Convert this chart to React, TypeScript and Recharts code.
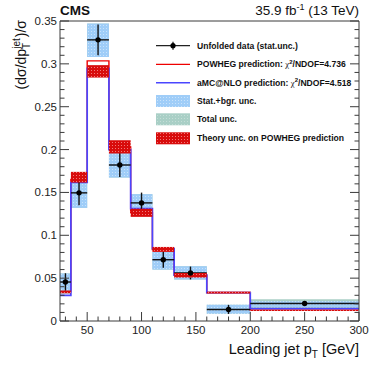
import React from 'react';
import {
  ComposedChart, XAxis, YAxis, Line, Scatter, ErrorBar, ReferenceArea,
} from 'recharts';

// ---------------- data ----------------
const binEdges = [25, 35, 50, 70, 90, 110, 130, 160, 200, 300];
const binCenters = [30, 42.5, 60, 80, 100, 120, 145, 180, 250];
const dataValues = [0.0455, 0.1495, 0.328, 0.182, 0.1378, 0.0715, 0.056, 0.0135, 0.0205];
const dataStatErr = [0.0102, 0.0146, 0.018, 0.014, 0.012, 0.0095, 0.0075, 0.0053, 0.0025];
const statBandLo = [0.032, 0.132, 0.308, 0.1675, 0.1285, 0.060, 0.0483, 0.0086, 0.0164];
const statBandHi = [0.0554, 0.162, 0.347, 0.196, 0.148, 0.0806, 0.064, 0.019, 0.023];
const totalBandLo = [0.032, 0.132, 0.308, 0.1675, 0.1285, 0.060, 0.0483, 0.0086, 0.0137];
const totalBandHi = [0.0554, 0.162, 0.347, 0.196, 0.148, 0.0806, 0.064, 0.019, 0.0253];
const powhegValues = [0.034, 0.165, 0.3035, 0.203, 0.1265, 0.0835, 0.0535, 0.0332, 0.0125];
const powhegBandLo = [0.0325, 0.1615, 0.284, 0.1955, 0.1215, 0.0806, 0.0507, 0.0322, 0.0118];
const powhegBandHi = [0.0355, 0.174, 0.2985, 0.211, 0.131, 0.0864, 0.056, 0.0342, 0.0132];
const amcValues = [0.030, 0.1616, 0.2948, 0.2, 0.131, 0.0845, 0.0535, 0.0332, 0.0145];

const xTicks = [30, 40, 50, 60, 70, 80, 90, 100, 110, 120, 130, 140, 150, 160, 170, 180, 190, 200,
  210, 220, 230, 240, 250, 260, 270, 280, 290, 300];
const xMajorLabels = [50, 100, 150, 200, 250, 300];
const yTicks = [0, 0.01, 0.02, 0.03, 0.04, 0.05, 0.06, 0.07, 0.08, 0.09, 0.1, 0.11, 0.12, 0.13,
  0.14, 0.15, 0.16, 0.17, 0.18, 0.19, 0.2, 0.21, 0.22, 0.23, 0.24, 0.25, 0.26, 0.27, 0.28, 0.29,
  0.3, 0.31, 0.32, 0.33, 0.34, 0.35];
const yMajorLabels = ['0', '0.05', '0.1', '0.15', '0.2', '0.25', '0.3', '0.35'];

const legendLabels = [
  'Unfolded data (stat.unc.)',
  'POWHEG prediction: ',
  'aMC@NLO prediction: ',
  'Stat.+bgr. unc.',
  'Total unc.',
  'Theory unc. on POWHEG prediction',
];
const chi2Values = ['4.736', '4.518'];

// ---------------- derived tables ----------------
const stepData = (vals: number[]) =>
  binEdges.map((e, i) => ({ x: e, y: vals[Math.min(i, vals.length - 1)] }));
const powhegSteps = stepData(powhegValues);
const amcSteps = stepData(amcValues);
const points = binCenters.map((c, i) => ({
  x: c,
  y: dataValues[i],
  ex: [c - binEdges[i], binEdges[i + 1] - c],
  ey: dataStatErr[i],
}));

const FONT = '"Liberation Sans", Arial, Helvetica, sans-serif';
const AXIS = '#3a3a3a';
const RED = '#ee0000';
const BLUE = '#4a46ff';

const isMajorX = (v: number) => xMajorLabels.includes(v);
const isMajorY = (v: number) => yMajorLabels.includes(String(v));

const BottomTick = (p: any) => {
  const v = p.payload.value;
  const m = isMajorX(v);
  return (
    <g>
      <line x1={p.x} x2={p.x} y1={p.y} y2={p.y - (m ? 9 : 4.5)} stroke={AXIS} strokeWidth={1} />
      {m && (
        <text x={p.x} y={p.y + 13} textAnchor="middle" fontSize={11.5} fontFamily={FONT} fill="#222">
          {v}
        </text>
      )}
    </g>
  );
};
const TopTick = (p: any) => {
  const v = p.payload.value;
  const m = isMajorX(v);
  return <line x1={p.x} x2={p.x} y1={p.y} y2={p.y + (m ? 9 : 4.5)} stroke={AXIS} strokeWidth={1} />;
};
const LeftTick = (p: any) => {
  const v = p.payload.value;
  const m = isMajorY(v);
  return (
    <g>
      <line x1={p.x} x2={p.x + (m ? 9 : 4.5)} y1={p.y} y2={p.y} stroke={AXIS} strokeWidth={1} />
      {m && (
        <text x={p.x - 3} y={p.y + 4} textAnchor="end" fontSize={11.5} fontFamily={FONT} fill="#222">
          {String(v)}
        </text>
      )}
    </g>
  );
};
const RightTick = (p: any) => {
  const v = p.payload.value;
  const m = isMajorY(v);
  return <line x1={p.x} x2={p.x - (m ? 9 : 4.5)} y1={p.y} y2={p.y} stroke={AXIS} strokeWidth={1} />;
};

const Patterns = ({ prefix }: { prefix: string }) => (
  <defs>
    <pattern id={prefix + 'stat'} width="3" height="3" patternUnits="userSpaceOnUse">
      <rect width="3" height="3" fill="#9fcdf8" />
      <rect x="1" y="1" width="1" height="1" fill="#c9e3fb" />
    </pattern>
    <pattern id={prefix + 'total'} width="3" height="3" patternUnits="userSpaceOnUse">
      <rect width="3" height="3" fill="#a9cfc6" />
      <rect x="1" y="1" width="1" height="1" fill="#c4ddd7" />
    </pattern>
    <pattern id={prefix + 'theory'} width="3" height="3" patternUnits="userSpaceOnUse">
      <rect width="3" height="3" fill="#d80c0c" />
      <rect x="1" y="1" width="1" height="1" fill="#f07a7a" />
    </pattern>
  </defs>
);

const Overlay = () => {
  const rowY = [45.7, 64.3, 82.7, 101, 119.3, 138.3];
  const x0 = 156;
  const x1 = 190;
  const tx = 197;
  const lf = 8.6;
  return (
    <svg width={374} height={369} style={{ position: 'absolute', left: 0, top: 0, pointerEvents: 'none' }}>
      <Patterns prefix="lg" />
      <text x={60} y={15} fontSize={13.5} fontWeight="bold" fontFamily={FONT} fill="#111">CMS</text>
      <text x={359} y={15} fontSize={13.5} fontFamily={FONT} fill="#111" textAnchor="end">
        35.9 fb<tspan dy={-5} fontSize={9}>-1</tspan><tspan dy={5}> (13 TeV)</tspan>
      </text>
      <text transform="translate(26,20) rotate(-90)" textAnchor="end" fontSize={14} fontFamily={FONT} fill="#111">
        (dσ/dp<tspan dy={4} fontSize={10}>T</tspan><tspan dx={-6} dy={-10} fontSize={10}>jet</tspan>
        <tspan dx={1} dy={6}>)/σ</tspan>
      </text>
      <text x={359} y={354} textAnchor="end" fontSize={14.5} fontFamily={FONT} fill="#111">
        Leading jet p<tspan dy={4} fontSize={10}>T</tspan><tspan dy={-4}> [GeV]</tspan>
      </text>
      {/* legend */}
      <line x1={x0} x2={x1} y1={rowY[0]} y2={rowY[0]} stroke="#222" strokeWidth={1.3} />
      <line x1={(x0 + x1) / 2} x2={(x0 + x1) / 2} y1={rowY[0] - 4} y2={rowY[0] + 4} stroke="#222" strokeWidth={1.3} />
      <circle cx={(x0 + x1) / 2} cy={rowY[0]} r={2.6} fill="#000" />
      <line x1={x0} x2={x1} y1={rowY[1]} y2={rowY[1]} stroke={RED} strokeWidth={1.3} />
      <line x1={x0} x2={x1} y1={rowY[2]} y2={rowY[2]} stroke={BLUE} strokeWidth={1.5} />
      <rect x={x0} y={rowY[3] - 6} width={x1 - x0} height={12} fill="url(#lgstat)" />
      <rect x={x0} y={rowY[4] - 6} width={x1 - x0} height={12} fill="url(#lgtotal)" />
      <rect x={x0} y={rowY[5] - 6} width={x1 - x0} height={12} fill="url(#lgtheory)" />
      {legendLabels.map((l, i) => (
        <text key={i} x={tx} y={rowY[i] + 3} fontSize={lf} fontWeight="bold" fontFamily={FONT} fill="#111">
          {l}
          {i === 1 || i === 2 ? (
            <>
              <tspan fontWeight="normal" fontFamily="serif">χ</tspan>
              <tspan dy={-3.5} fontSize={6}>2</tspan>
              <tspan dy={3.5}>/NDOF={chi2Values[i - 1]}</tspan>
            </>
          ) : null}
        </text>
      ))}
    </svg>
  );
};

export default function App() {
  return (
    <div style={{ position: 'absolute', left: 0, top: 0, width: 374, height: 369, background: '#fff' }}>
      <ComposedChart
        width={374}
        height={369}
        margin={{ top: 20, right: 14, bottom: 47, left: 59 }}
      >
        <Patterns prefix="pl" />
        <XAxis
          xAxisId="b" dataKey="x" type="number" domain={[25, 300]} ticks={xTicks} interval={0}
          height={1} tickSize={0} tickMargin={0} tick={BottomTick} stroke={AXIS} allowDataOverflow
        />
        <XAxis
          xAxisId="t" orientation="top" type="number" domain={[25, 300]} ticks={xTicks} interval={0}
          height={1} tickSize={0} tickMargin={0} tick={TopTick} stroke={AXIS} allowDataOverflow
        />
        <YAxis
          yAxisId="l" type="number" domain={[0, 0.35]} ticks={yTicks} interval={0}
          width={1} tickSize={0} tickMargin={0} tick={LeftTick} stroke={AXIS} allowDataOverflow
        />
        <YAxis
          yAxisId="r" orientation="right" type="number" domain={[0, 0.35]} ticks={yTicks} interval={0}
          width={1} tickSize={0} tickMargin={0} tick={RightTick} stroke={AXIS} allowDataOverflow
        />
        {binCenters.map((_, i) => (
          <ReferenceArea
            key={'tot' + i} xAxisId="b" yAxisId="l" x1={binEdges[i]} x2={binEdges[i + 1]}
            y1={totalBandLo[i]} y2={totalBandHi[i]} fill="url(#pltotal)" fillOpacity={1}
            stroke="none" ifOverflow="visible" zIndex={40}
          />
        ))}
        {binCenters.map((_, i) => (
          <ReferenceArea
            key={'st' + i} xAxisId="b" yAxisId="l" x1={binEdges[i]} x2={binEdges[i + 1]}
            y1={statBandLo[i]} y2={statBandHi[i]} fill="url(#plstat)" fillOpacity={1}
            stroke="none" ifOverflow="visible" zIndex={50}
          />
        ))}
        <Line
          xAxisId="b" yAxisId="l" data={powhegSteps} dataKey="y" type="stepAfter" stroke={RED}
          strokeWidth={1.4} dot={false} isAnimationActive={false} zIndex={390}
        />
        <Line
          xAxisId="b" yAxisId="l" data={amcSteps} dataKey="y" type="stepAfter" stroke={BLUE}
          strokeWidth={1.7} dot={false} isAnimationActive={false} zIndex={400}
        />
        {binCenters.map((_, i) => (
          <ReferenceArea
            key={'th' + i} xAxisId="b" yAxisId="l" x1={binEdges[i]} x2={binEdges[i + 1]}
            y1={powhegBandLo[i]} y2={powhegBandHi[i]} fill="url(#pltheory)" fillOpacity={1}
            stroke="none" ifOverflow="visible" zIndex={450}
          />
        ))}
        <Scatter
          xAxisId="b" yAxisId="l" data={points} dataKey="y" isAnimationActive={false} zIndex={600}
          shape={(p: any) => <circle cx={p.cx} cy={p.cy} r={2.7} fill="#000" />}
        >
          <ErrorBar dataKey="ex" direction="x" width={0} stroke="#111" strokeWidth={1.4} isAnimationActive={false} />
          <ErrorBar dataKey="ey" direction="y" width={0} stroke="#111" strokeWidth={1.4} isAnimationActive={false} />
        </Scatter>
      </ComposedChart>
      <Overlay />
    </div>
  );
}
